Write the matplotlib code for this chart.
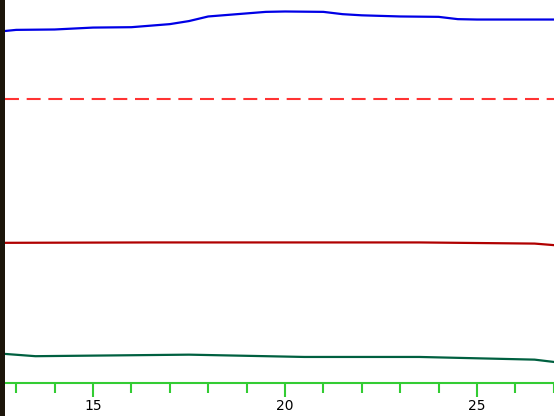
import matplotlib
matplotlib.use('Agg')
import matplotlib.pyplot as plt
from matplotlib.patches import Rectangle
from matplotlib.ticker import MultipleLocator

# x positions (same for all series)
x_blue = [12.7, 13, 14, 15, 16, 17, 17.5, 18, 18.5, 19, 19.5, 20, 21, 21.5, 22, 23, 24, 24.5, 25, 26, 27]
blue = [91.9, 92.2, 92.3, 92.8, 92.9, 93.7, 94.5, 95.7, 96.1, 96.5, 96.9, 97.0, 96.9, 96.3, 96.0, 95.7, 95.6, 95.0, 94.9, 94.9, 94.9]

x_ref = [12.7, 27]
red_ref = [74.2, 74.2]

x_red = [12.7, 16.5, 23.5, 26.5, 27]
dark_red = [36.6, 36.7, 36.7, 36.4, 36.0]

x_green = [12.7, 13.5, 17.5, 19.5, 20.5, 23.5, 26.5, 27]
green = [7.6, 7.0, 7.4, 7.0, 6.8, 6.8, 6.1, 5.5]

major_ticks = [15, 20, 25]
tick_labels = ['15', '20', '25']

fig = plt.figure(figsize=(5.54, 4.16), dpi=100)
fig.patch.set_facecolor('white')
# dark strip along the left edge
fig.patches.append(Rectangle((0, 0), 5 / 554, 1, transform=fig.transFigure,
                             facecolor='#1c150a', edgecolor='none', zorder=0))

ax = fig.add_axes([5 / 554, 33 / 416, 549 / 554, 383 / 416])
ax.set_facecolor('white')

ax.plot(x_blue, blue, color='#0000e6', lw=1.6)
ax.plot(x_ref, red_ref, color='#ff3333', lw=1.5, linestyle=(0, (6.7, 3.7)))
ax.plot(x_red, dark_red, color='#b00000', lw=1.6)
ax.plot(x_green, green, color='#006040', lw=1.6)

ax.set_xlim(12.708, 27.005)
ax.set_ylim(0, 100)

for side in ['top', 'left', 'right']:
    ax.spines[side].set_visible(False)
ax.spines['bottom'].set_color('#33cc33')
ax.spines['bottom'].set_linewidth(1.5)

ax.set_xticks(major_ticks)
ax.set_xticklabels(tick_labels)
ax.xaxis.set_minor_locator(MultipleLocator(1))
ax.tick_params(axis='x', which='major', length=10, width=1.5, color='#33cc33',
               labelsize=10, pad=1.5, labelcolor='black')
ax.tick_params(axis='x', which='minor', length=7, width=1.5, color='#33cc33')
ax.set_yticks([])

fig.savefig('out.png', dpi=100, facecolor=fig.get_facecolor())
